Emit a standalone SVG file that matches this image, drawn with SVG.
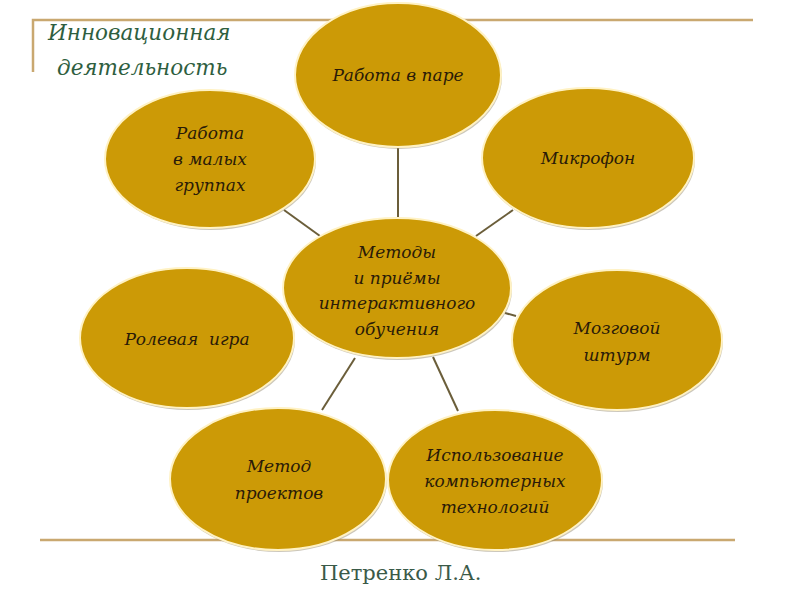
<svg xmlns="http://www.w3.org/2000/svg" width="800" height="600" viewBox="0 0 800 600">
<defs>
<style>
.node ellipse.sh{fill:#9a8f78;opacity:0.5}
.node ellipse.bd{fill:#CC9A06;stroke:#FFF2C4;stroke-width:2}
.node text{font-family:"DejaVu Serif","Liberation Serif",serif;font-style:italic;font-size:17px;fill:#2a1a08;text-anchor:middle}
.conn line{stroke:#6b5e3a;stroke-width:2}
.frame{stroke:#C9A870;stroke-width:2.5;fill:none}
.ser{font-family:"DejaVu Serif","Liberation Serif",serif}
</style>
</defs>
<rect width="800" height="600" fill="#ffffff"/>
<path class="frame" d="M33 72 V20 H753"/>
<line class="frame" x1="40" y1="540" x2="735" y2="540"/>
<g id="title" class="ser" font-style="italic" font-size="21.5" fill="#2E5E40">
<text x="48" y="40">Инновационная</text>
<text x="57" y="75">деятельность</text>
</g>
<g id="connectors" class="conn">
<line x1="398" y1="147" x2="398" y2="219"/>
<line x1="476" y1="236" x2="513" y2="210"/>
<line x1="284" y1="210" x2="320" y2="236"/>
<line x1="505" y1="313" x2="516" y2="316"/>
<line x1="355" y1="358" x2="322" y2="410"/>
<line x1="433" y1="357" x2="458" y2="411"/>
</g>
<g id="n-para" class="node">
<ellipse class="sh" cx="399" cy="77" rx="103" ry="72"/>
<ellipse class="bd" cx="398" cy="75" rx="103" ry="72"/>
<text x="398" y="81">Работа в паре</text>
</g>
<g id="n-groups" class="node">
<ellipse class="sh" cx="211" cy="161" rx="105" ry="69"/>
<ellipse class="bd" cx="210" cy="159" rx="105" ry="69"/>
<text x="210" y="139">Работа</text>
<text x="210" y="165">в малых</text>
<text x="210" y="191">группах</text>
</g>
<g id="n-mic" class="node">
<ellipse class="sh" cx="589" cy="160" rx="106" ry="70"/>
<ellipse class="bd" cx="588" cy="158" rx="106" ry="70"/>
<text x="588" y="164">Микрофон</text>
</g>
<g id="n-center" class="node">
<ellipse class="sh" cx="398" cy="290" rx="114" ry="70"/>
<ellipse class="bd" cx="397" cy="288" rx="114" ry="70"/>
<text x="397" y="258">Методы</text>
<text x="397" y="284">и приёмы</text>
<text x="397" y="309">интерактивного</text>
<text x="397" y="335">обучения</text>
</g>
<g id="n-role" class="node">
<ellipse class="sh" cx="188" cy="340" rx="107" ry="70"/>
<ellipse class="bd" cx="187" cy="338" rx="107" ry="70"/>
<text x="187" y="345" xml:space="preserve">Ролевая  игра</text>
</g>
<g id="n-brain" class="node">
<ellipse class="sh" cx="618" cy="342" rx="105" ry="70"/>
<ellipse class="bd" cx="617" cy="340" rx="105" ry="70"/>
<text x="617" y="334">Мозговой</text>
<text x="617" y="361">штурм</text>
</g>
<g id="n-project" class="node">
<ellipse class="sh" cx="279" cy="481" rx="108" ry="71"/>
<ellipse class="bd" cx="278" cy="479" rx="108" ry="71"/>
<text x="279" y="472">Метод</text>
<text x="279" y="499">проектов</text>
</g>
<g id="n-comp" class="node">
<ellipse class="sh" cx="496" cy="482" rx="107" ry="70"/>
<ellipse class="bd" cx="495" cy="480" rx="107" ry="70"/>
<text x="495" y="461">Использование</text>
<text x="495" y="487">компьютерных</text>
<text x="495" y="513">технологий</text>
</g>
<g id="footer">
<text class="ser" x="320" y="580" font-size="21" fill="#3A5A48">Петренко Л.А.</text>
</g>
</svg>
